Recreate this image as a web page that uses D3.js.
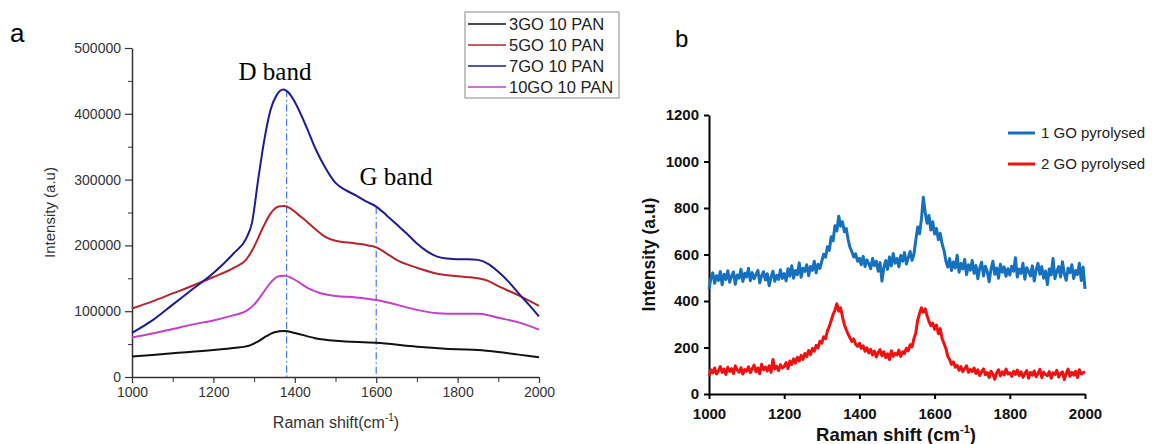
<!DOCTYPE html>
<html>
<head>
<meta charset="utf-8">
<script src="https://cdn.jsdelivr.net/npm/d3@7"></script>
<style>
  body { margin: 0; background: #fff; }
  svg { display: block; }
</style>
</head>
<body>
<div id="chart"></div>
<script>

// ---- panel a : smooth spectra (Raman shift, intensity) ----
const seriesA = ["3GO 10 PAN", "5GO 10 PAN", "7GO 10 PAN", "10GO 10 PAN"];
const colorsA = ["#111111", "#b3262a", "#1c1c8f", "#c23fc6"];

const go3 = [[1000,31000],[1100,36000],[1200,41000],[1250,44000],[1290,48000],[1310,54000],[1330,62000],[1350,68000],[1375,70000],[1400,67000],[1450,59000],[1500,55000],[1600,52000],[1700,46000],[1800,42000],[1850,41000],[1900,38000],[1950,34000],[2000,30000]];
const go5 = [[1000,104000],[1050,115000],[1100,127000],[1150,139000],[1200,152000],[1250,166000],[1280,178000],[1300,198000],[1320,225000],[1340,248000],[1360,259000],[1375,260000],[1390,256000],[1410,246000],[1430,236000],[1450,225000],[1475,213000],[1500,207000],[1550,203000],[1580,200000],[1600,197000],[1625,188000],[1650,178000],[1700,166000],[1750,157000],[1800,153000],[1850,150000],[1875,146000],[1900,138000],[1950,124000],[2000,108000]];
const go7 = [[1000,67000],[1050,86000],[1100,110000],[1150,134000],[1200,158000],[1250,188000],[1280,210000],[1295,235000],[1310,300000],[1325,360000],[1340,405000],[1355,428000],[1372,437000],[1385,432000],[1400,418000],[1430,378000],[1450,348000],[1475,318000],[1500,295000],[1525,284000],[1550,276000],[1575,267000],[1600,259000],[1625,246000],[1650,232000],[1675,218000],[1700,203000],[1725,191000],[1750,183000],[1775,180000],[1800,179000],[1825,179000],[1850,178000],[1875,172000],[1900,160000],[1925,145000],[1950,127000],[1975,110000],[2000,92000]];
const go10 = [[1000,60000],[1050,66000],[1100,73000],[1150,80000],[1200,86000],[1250,94000],[1280,100000],[1300,110000],[1320,126000],[1340,143000],[1360,153000],[1375,154000],[1390,151000],[1410,144000],[1430,136000],[1460,128000],[1500,123000],[1550,121000],[1600,117000],[1650,110000],[1700,102000],[1750,97000],[1800,96000],[1850,96000],[1875,94000],[1900,90000],[1950,83000],[2000,72000]];

const bandLines = [1380, 1600];
const bandTop = [436000, 258000];
const yTicksA = [0, 100000, 200000, 300000, 400000, 500000];
const xTicks = [1000, 1200, 1400, 1600, 1800, 2000];

// ---- panel b : noisy spectra, sampled every 5 cm-1 ----
const seriesB = ["1 GO pyrolysed", "2 GO pyrolysed"];
const colorsB = ["#1570c0", "#f01010"];

const shiftB = [
 1000,1005,1010,1015,1020,1025,1030,1035,1040,1045,1050,1055,1060,1065,1070,1075,1080,1085,1090,1095,
 1100,1105,1110,1115,1120,1125,1130,1135,1140,1145,1150,1155,1160,1165,1170,1175,1180,1185,1190,1195,
 1200,1205,1210,1215,1220,1225,1230,1235,1240,1245,1250,1255,1260,1265,1270,1275,1280,1285,1290,1295,
 1300,1305,1310,1315,1320,1325,1330,1335,1340,1345,1350,1355,1360,1365,1370,1375,1380,1385,1390,1395,
 1400,1405,1410,1415,1420,1425,1430,1435,1440,1445,1450,1455,1460,1465,1470,1475,1480,1485,1490,1495,
 1500,1505,1510,1515,1520,1525,1530,1535,1540,1545,1550,1555,1560,1565,1570,1575,1580,1585,1590,1595,
 1600,1605,1610,1615,1620,1625,1630,1635,1640,1645,1650,1655,1660,1665,1670,1675,1680,1685,1690,1695,
 1700,1705,1710,1715,1720,1725,1730,1735,1740,1745,1750,1755,1760,1765,1770,1775,1780,1785,1790,1795,
 1800,1805,1810,1815,1820,1825,1830,1835,1840,1845,1850,1855,1860,1865,1870,1875,1880,1885,1890,1895,
 1900,1905,1910,1915,1920,1925,1930,1935,1940,1945,1950,1955,1960,1965,1970,1975,1980,1985,1990,1995,
 2000];

const go1Pyro = [
 452,498,521,476,509,488,527,470,515,493,530,481,507,525,472,512,498,536,484,519,
 503,541,487,522,495,514,532,478,509,526,490,517,466,502,528,485,511,493,534,497,
 518,486,539,507,552,498,531,513,564,502,541,527,556,509,548,532,571,521,558,540,
 572,601,588,633,618,676,659,724,701,765,722,741,698,712,664,631,612,589,603,571,
 584,556,592,548,577,561,539,583,552,571,528,565,486,543,574,536,589,551,604,562,
 583,547,596,571,608,559,587,613,575,601,662,718,689,752,846,781,734,768,705,741,
 688,712,663,691,645,618,572,546,583,531,568,542,597,524,561,538,579,513,556,532,
 574,519,553,496,541,567,508,549,527,483,536,571,515,542,498,558,524,547,506,539,
 512,549,528,586,503,537,519,562,494,543,527,508,551,486,533,562,515,548,498,529,
 471,538,512,583,496,527,548,503,569,517,489,541,522,556,497,531,514,562,488,546,
 452];

const go2Pyro = [
 78,104,91,112,86,99,118,93,107,84,115,97,109,88,121,102,94,113,86,105,
 98,117,92,109,124,95,112,87,128,104,116,99,121,93,148,108,119,101,126,112,
 118,135,109,142,127,151,133,158,142,166,149,174,161,187,169,196,184,209,198,227,
 219,246,238,272,291,316,342,361,388,356,371,332,298,276,258,241,226,237,214,205,
 218,196,207,184,199,176,192,168,185,159,178,191,164,182,157,173,148,186,162,175,
 168,189,161,182,174,197,186,212,203,238,262,318,346,371,352,366,337,312,294,305,
 278,296,259,281,238,217,196,162,148,127,138,115,123,102,118,96,109,121,93,105,
 97,112,88,104,79,96,108,83,92,71,98,85,63,91,104,78,95,82,107,86,
 91,76,98,84,103,79,95,72,88,101,68,93,81,99,74,87,106,71,94,83,
 79,96,68,91,84,102,73,89,95,62,88,107,76,93,81,98,71,104,86,92,
 95];

const yTicksB = [0, 200, 400, 600, 800, 1000, 1200];

const W = 1154, H = 444;
const sans = "'Liberation Sans', Arial, sans-serif";
const serif = "'Liberation Serif', 'Times New Roman', serif";

const svg = d3.select("#chart").append("svg")
    .attr("width", W)
    .attr("height", H);

// ================= panel a =================
const a = {left: 132, right: 539, top: 48, bottom: 377};
const xA = d3.scaleLinear().domain([1000, 2000]).range([a.left, a.right]);
const yA = d3.scaleLinear().domain([0, 500000]).range([a.bottom, a.top]);

const gA = svg.append("g");

// minor ticks
gA.append("g")
    .attr("transform", `translate(0,${a.bottom})`)
    .call(d3.axisBottom(xA).tickValues([1100, 1300, 1500, 1700, 1900]).tickSize(5).tickFormat(""))
    .call(g => g.select(".domain").remove())
    .call(g => g.selectAll("line").attr("stroke", "#333"));
gA.append("g")
    .attr("transform", `translate(${a.left},0)`)
    .call(d3.axisLeft(yA).tickValues([50000, 150000, 250000, 350000, 450000]).tickSize(4).tickFormat(""))
    .call(g => g.select(".domain").remove())
    .call(g => g.selectAll("line").attr("stroke", "#333"));

const xAxisA = gA.append("g")
    .attr("transform", `translate(0,${a.bottom})`)
    .call(d3.axisBottom(xA).tickValues(xTicks).tickSize(6).tickSizeOuter(0).tickPadding(4).tickFormat(d3.format("d")));
const yAxisA = gA.append("g")
    .attr("transform", `translate(${a.left},0)`)
    .call(d3.axisLeft(yA).tickValues(yTicksA).tickSize(7).tickSizeOuter(0).tickPadding(4).tickFormat(d3.format("d")));
[xAxisA, yAxisA].forEach(ax => {
    ax.select(".domain").attr("stroke", "#333").attr("stroke-width", 1.5);
    ax.selectAll("line").attr("stroke", "#333").attr("stroke-width", 1.2);
    ax.selectAll("text")
        .attr("fill", "#333")
        .style("font-family", sans)
        .style("font-size", "14px");
});

gA.append("text")
    .attr("transform", `translate(55,${(a.top + a.bottom) / 2}) rotate(-90)`)
    .attr("text-anchor", "middle")
    .attr("fill", "#333")
    .style("font-family", sans)
    .style("font-size", "15px")
    .text("Intensity (a.u)");

const xTitleA = gA.append("text")
    .attr("x", 336)
    .attr("y", 428)
    .attr("text-anchor", "middle")
    .attr("fill", "#333")
    .style("font-family", sans)
    .style("font-size", "16px");
xTitleA.append("tspan").text("Raman shift(cm");
xTitleA.append("tspan").attr("dy", -7).style("font-size", "10px").text("-1");
xTitleA.append("tspan").attr("dy", 7).text(")");

// D / G band guide lines
gA.selectAll(".band")
    .data(bandLines)
    .join("line")
    .attr("class", "band")
    .attr("x1", d => xA(d)).attr("x2", d => xA(d))
    .attr("y1", (d, i) => yA(bandTop[i]))
    .attr("y2", a.bottom)
    .attr("stroke", "#2f6fe0")
    .attr("stroke-width", 1.1)
    .attr("stroke-dasharray", "7,3,1.5,3");

const lineA = d3.line()
    .x(d => xA(d[0]))
    .y(d => yA(d[1]))
    .curve(d3.curveMonotoneX);

[go3, go5, go7, go10].forEach((s, i) => {
    gA.append("path")
        .datum(s)
        .attr("fill", "none")
        .attr("stroke", colorsA[i])
        .attr("stroke-width", 2)
        .attr("d", lineA);
});

gA.append("text")
    .attr("x", 275).attr("y", 80)
    .attr("text-anchor", "middle")
    .style("font-family", serif)
    .style("font-size", "25px")
    .text("D band");
gA.append("text")
    .attr("x", 396).attr("y", 185)
    .attr("text-anchor", "middle")
    .style("font-family", serif)
    .style("font-size", "25px")
    .text("G band");

// legend a
const legA = gA.append("g").attr("transform", "translate(465,12)");
legA.append("rect")
    .attr("width", 154).attr("height", 86)
    .attr("fill", "#fff")
    .attr("stroke", "#888")
    .attr("stroke-width", 1);
seriesA.forEach((name, i) => {
    const y = 12 + i * 21;
    legA.append("line")
        .attr("x1", 3).attr("x2", 41)
        .attr("y1", y).attr("y2", y)
        .attr("stroke", colorsA[i])
        .attr("stroke-width", 1.6);
    legA.append("text")
        .attr("x", 44).attr("y", y + 6)
        .attr("fill", "#222")
        .style("font-family", sans)
        .style("font-size", "16.5px")
        .text(name);
});

gA.append("text")
    .attr("x", 10).attr("y", 42)
    .style("font-family", sans)
    .style("font-size", "26px")
    .text("a");

// ================= panel b =================
const b = {left: 709, right: 1085, top: 115, bottom: 394};
const xB = d3.scaleLinear().domain([1000, 2000]).range([b.left, b.right]);
const yB = d3.scaleLinear().domain([0, 1200]).range([b.bottom, b.top]);

const gB = svg.append("g");

const xAxisB = gB.append("g")
    .attr("transform", `translate(0,${b.bottom})`)
    .call(d3.axisBottom(xB).tickValues(xTicks).tickSize(5).tickSizeOuter(0).tickPadding(9).tickFormat(d3.format("d")));
const yAxisB = gB.append("g")
    .attr("transform", `translate(${b.left},0)`)
    .call(d3.axisLeft(yB).tickValues(yTicksB).tickSize(5).tickSizeOuter(0).tickPadding(5).tickFormat(d3.format("d")));
[xAxisB, yAxisB].forEach(ax => {
    ax.select(".domain").attr("stroke", "#000").attr("stroke-width", 2);
    ax.selectAll("line").attr("stroke", "#000").attr("stroke-width", 2);
    ax.selectAll("text")
        .attr("fill", "#111")
        .style("font-family", sans)
        .style("font-weight", "bold")
        .style("font-size", "15px");
});

gB.append("text")
    .attr("transform", `translate(655,${(b.top + b.bottom) / 2}) rotate(-90)`)
    .attr("text-anchor", "middle")
    .attr("fill", "#111")
    .style("font-family", sans)
    .style("font-weight", "bold")
    .style("font-size", "17.5px")
    .text("Intensity (a.u)");

const xTitleB = gB.append("text")
    .attr("x", 896)
    .attr("y", 441)
    .attr("text-anchor", "middle")
    .attr("fill", "#111")
    .style("font-family", sans)
    .style("font-weight", "bold")
    .style("font-size", "18.5px");
xTitleB.append("tspan").text("Raman shift (cm");
xTitleB.append("tspan").attr("dy", -8).style("font-size", "11px").text("-1");
xTitleB.append("tspan").attr("dy", 8).text(")");

const lineB = d3.line()
    .x((d, i) => xB(shiftB[i]))
    .y(d => yB(d));

[go1Pyro, go2Pyro].forEach((s, i) => {
    gB.append("path")
        .datum(s)
        .attr("fill", "none")
        .attr("stroke", colorsB[i])
        .attr("stroke-width", 3)
        .attr("stroke-linejoin", "round")
        .attr("d", lineB);
});

// legend b
seriesB.forEach((name, i) => {
    const y = 133 + i * 31;
    gB.append("line")
        .attr("x1", 1008).attr("x2", 1035)
        .attr("y1", y).attr("y2", y)
        .attr("stroke", colorsB[i])
        .attr("stroke-width", 3);
    gB.append("text")
        .attr("x", 1041).attr("y", y + 5)
        .attr("fill", "#222")
        .style("font-family", sans)
        .style("font-size", "15px")
        .text(name);
});

gB.append("text")
    .attr("x", 675).attr("y", 47)
    .style("font-family", sans)
    .style("font-size", "24px")
    .text("b");

</script>
</body>
</html>
